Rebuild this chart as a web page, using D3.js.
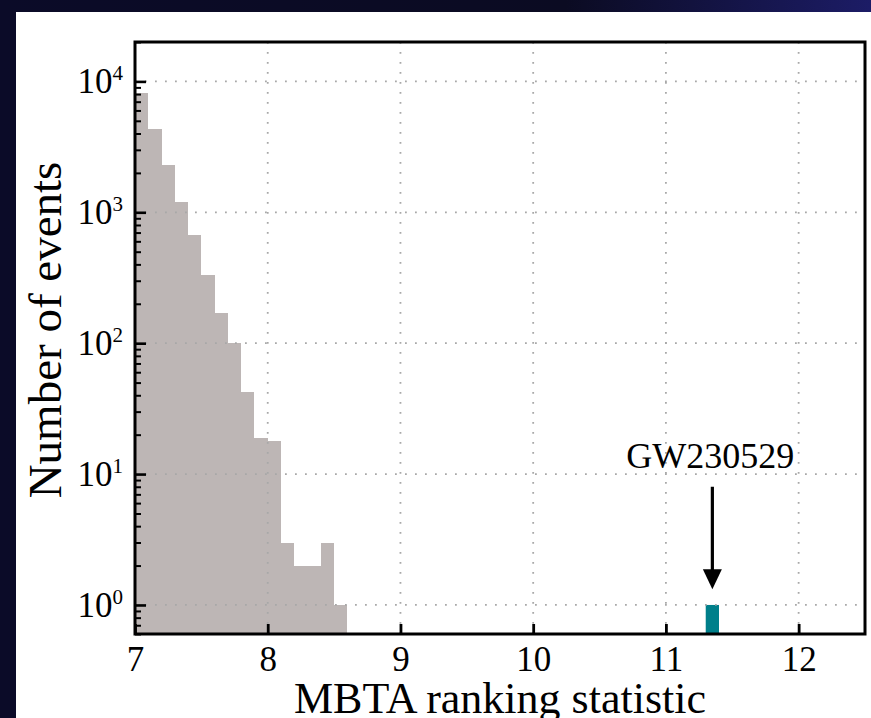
<!DOCTYPE html>
<html lang="en">
<head>
<meta charset="UTF-8">
<title>MBTA ranking statistic</title>
<script src="https://cdn.jsdelivr.net/npm/d3@7"></script>
<style>
  * { margin: 0; padding: 0; }
  body { width: 871px; height: 718px; overflow: hidden; background: #0b0b26; }
  svg { display: block; }
</style>
</head>
<body>
<svg width="871" height="718"></svg>
<script>
// Background histogram: bin lower edges (width 0.1) and counts
const binStarts = [7.0, 7.1, 7.2, 7.3, 7.4, 7.5, 7.6, 7.7, 7.8, 7.9, 8.0, 8.1, 8.2, 8.3, 8.4, 8.5];
const counts    = [8100, 4350, 2300, 1200, 670, 330, 170, 100, 42, 19, 18, 3, 2, 2, 3, 1];
const binWidth = 0.1;

// Candidate event
const eventName = "GW230529";
const eventBin = [11.3, 11.4];
const eventCount = 1;
const eventX = 11.35;
const arrowFrom = 8, arrowTo = 1.32, labelY = 11.1;

const xTicks = [7, 8, 9, 10, 11, 12];
const yTicks = [1, 10, 100, 1000, 10000];
const yExps  = [0, 1, 2, 3, 4];
const xDomain = [7, 12.5];
const yDomain = [0.6, 20000];

const FONT = "'Liberation Serif', 'DejaVu Serif', serif";

const svg = d3.select("svg").attr("font-family", FONT);

// backdrop
const defs = svg.append("defs");
const grad = defs.append("linearGradient").attr("id", "bg").attr("x1", 0).attr("x2", 1).attr("y1", 0).attr("y2", 0);
grad.append("stop").attr("offset", "0%").attr("stop-color", "#0b0b28");
grad.append("stop").attr("offset", "65%").attr("stop-color", "#0b0b22");
grad.append("stop").attr("offset", "100%").attr("stop-color", "#1c1c66");
svg.append("rect").attr("width", 871).attr("height", 718).attr("fill", "url(#bg)");
svg.append("rect").attr("x", 16).attr("y", 12).attr("width", 871 - 16).attr("height", 718 - 12).attr("fill", "#fff");

const pL = 135, pR = 865, pT = 42, pB = 634;
const x = d3.scaleLinear().domain(xDomain).range([pL, pR]);
const y = d3.scaleLog().domain(yDomain).range([pB, pT]);

// bars
svg.append("g").selectAll("rect")
  .data(binStarts.map((b, i) => ({ x0: b, x1: b + binWidth, n: counts[i] })))
  .join("rect")
  .attr("x", d => x(d.x0))
  .attr("width", d => x(d.x1) - x(d.x0))
  .attr("y", d => y(d.n))
  .attr("height", d => pB - y(d.n))
  .attr("fill", "#bdb6b5")
  .attr("shape-rendering", "crispEdges");

svg.append("rect")
  .attr("x", x(eventBin[0]))
  .attr("width", x(eventBin[1]) - x(eventBin[0]))
  .attr("y", y(eventCount))
  .attr("height", pB - y(eventCount))
  .attr("fill", "#007f8a");

// dotted grid, on top of bars
const grid = svg.append("g").attr("stroke", "#a8a8a8").attr("stroke-width", 1.8).attr("stroke-dasharray", "1.8,8.2");
grid.selectAll(".gx").data(xTicks.slice(1)).join("line").attr("class", "gx")
  .attr("x1", d => x(d)).attr("x2", d => x(d)).attr("y1", pT).attr("y2", pB);
grid.selectAll(".gy").data(yTicks).join("line").attr("class", "gy")
  .attr("x1", pL).attr("x2", pR).attr("y1", d => y(d)).attr("y2", d => y(d));

// minor y ticks
const minorY = [];
for (let e = -1; e <= 4; e++) for (let m = 2; m <= 9; m++) {
  const v = m * Math.pow(10, e);
  if (v >= yDomain[0] && v <= yDomain[1]) minorY.push(v);
}
const yMinor = svg.append("g").attr("transform", `translate(${pL},0)`)
  .call(d3.axisLeft(y).tickValues(minorY).tickSize(-6).tickFormat(""));
yMinor.select(".domain").remove();
yMinor.selectAll("line").attr("stroke-width", 2);

// major y ticks with 10^k labels
const yAxis = svg.append("g").attr("transform", `translate(${pL},0)`)
  .call(d3.axisLeft(y).tickValues(yTicks).tickSize(-11).tickPadding(12).tickFormat(""))
  .attr("font-family", FONT);
yAxis.select(".domain").remove();
yAxis.selectAll("line").attr("stroke-width", 2.6);
yAxis.selectAll(".tick text").each(function(d, i) {
  const t = d3.select(this).attr("font-size", 35).attr("fill", "#000");
  t.append("tspan").text("10");
  t.append("tspan").attr("font-size", 21).attr("dy", -13).text(yExps[i]);
});

// x axis
const xAxis = svg.append("g").attr("transform", `translate(0,${pB})`)
  .call(d3.axisBottom(x).tickValues(xTicks).tickSize(-10).tickPadding(12).tickFormat(d3.format("d")))
  .attr("font-family", FONT);
xAxis.select(".domain").remove();
xAxis.selectAll("line").attr("stroke-width", 2.8);
xAxis.selectAll("text").attr("font-size", 35).attr("fill", "#000");

// frame
svg.append("rect").attr("x", pL).attr("y", pT).attr("width", pR - pL).attr("height", pB - pT)
  .attr("fill", "none").attr("stroke", "#000").attr("stroke-width", 3);

// annotation
const ax = x(eventX), ay0 = y(arrowFrom), ay1 = y(arrowTo);
svg.append("line").attr("x1", ax).attr("x2", ax).attr("y1", ay0).attr("y2", ay1 - 18)
  .attr("stroke", "#000").attr("stroke-width", 3.2);
svg.append("path")
  .attr("d", `M${ax - 9.5},${ay1 - 20} L${ax + 9.5},${ay1 - 20} L${ax},${ay1} Z`)
  .attr("fill", "#000");
svg.append("text").attr("x", ax - 2).attr("y", y(labelY)).attr("text-anchor", "middle")
  .attr("font-size", 36).text(eventName);

// axis labels
svg.append("text").attr("x", (pL + pR) / 2).attr("y", 713).attr("text-anchor", "middle")
  .attr("font-size", 44).text("MBTA ranking statistic");
svg.append("text").attr("transform", `translate(61,330) rotate(-90)`)
  .attr("text-anchor", "middle").attr("font-size", 47).text("Number of events");
</script>
</body>
</html>
